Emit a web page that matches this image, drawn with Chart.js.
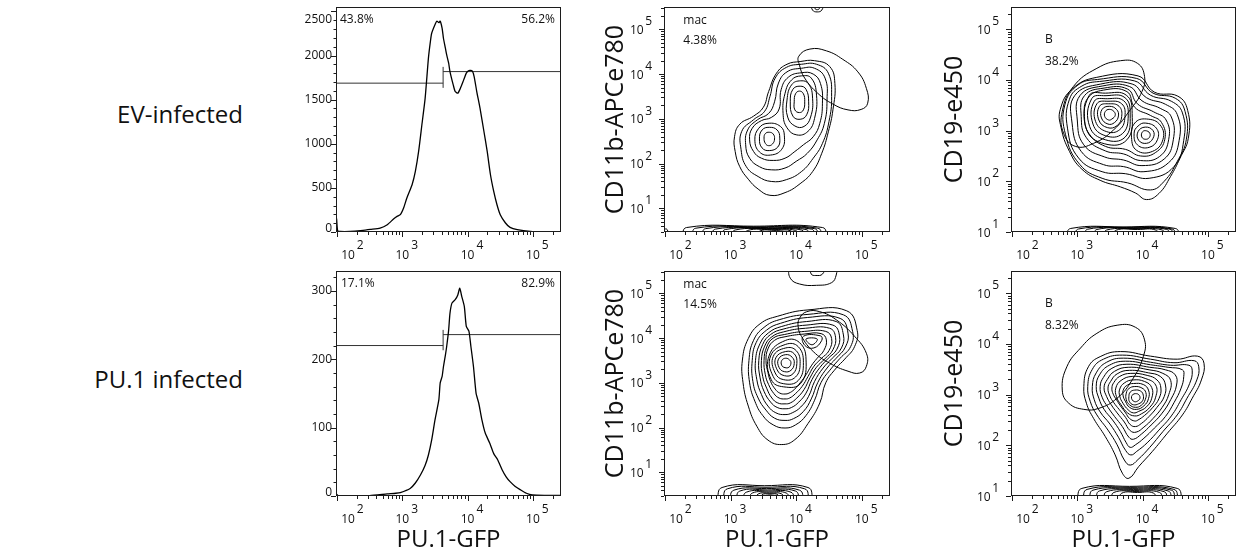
<!DOCTYPE html>
<html>
<head>
<meta charset="utf-8">
<title>PU.1-GFP flow panels</title>
<script src="https://cdn.jsdelivr.net/npm/chart.js@4.4.1/dist/chart.umd.min.js"></script>
<style>
  html, body { margin: 0; padding: 0; background: #fff; }
  body { position: relative; width: 1236px; height: 558px; overflow: hidden; font-family: "Open Sans", sans-serif; color: #111; }
  canvas { position: absolute; }
  .row-label { position: absolute; right: 993px; font-size: 24px; line-height: 28px; white-space: nowrap; }
</style>
</head>
<body>
<div class="row-label" style="top:100px">EV-infected</div>
<div class="row-label" style="top:365px">PU.1 infected</div>

<canvas id="histEv" width="290" height="264" style="left:280px;top:0"></canvas>
<canvas id="macEv" width="310" height="264" style="left:590px;top:0"></canvas>
<canvas id="bEv" width="306" height="264" style="left:930px;top:0"></canvas>
<canvas id="histPu" width="290" height="294" style="left:280px;top:264px"></canvas>
<canvas id="macPu" width="310" height="294" style="left:590px;top:264px"></canvas>
<canvas id="bPu" width="306" height="294" style="left:930px;top:264px"></canvas>

<script>
// All fluorescence values are log10 units (decades)
const gfpRange = [1.985, 5.43];
const cd11bRange = [0.47, 5.50];
const cd19Range = [1.0, 5.44];
const decadeTicks = [2, 3, 4, 5];
const markerTicks = [1, 2, 3, 4, 5];
const evCountTicks = [0, 500, 1000, 1500, 2000, 2500];
const puCountTicks = [0, 100, 200, 300];

// PU.1-GFP histograms
const evGfp = [1.985, 1.995, 2.01, 2.05, 2.20, 2.36, 2.51, 2.66, 2.77, 2.87, 2.92, 2.97, 3.02, 3.07, 3.15, 3.20, 3.25, 3.30, 3.35, 3.40, 3.43, 3.45, 3.51, 3.53, 3.56, 3.58, 3.61, 3.63, 3.66, 3.68, 3.71, 3.73, 3.78, 3.81, 3.85, 3.89, 3.94, 3.98, 4.02, 4.07, 4.10, 4.14, 4.19, 4.25, 4.30, 4.35, 4.40, 4.45, 4.50, 4.58, 4.65, 4.76, 4.96, 5.20, 5.43];
const evCounts = [180, 140, 15, 6, 6, 15, 30, 45, 83, 150, 177, 196, 272, 385, 536, 686, 913, 1215, 1517, 1970, 2158, 2253, 2366, 2390, 2372, 2390, 2309, 2196, 2083, 2007, 1913, 1818, 1667, 1592, 1573, 1630, 1724, 1800, 1830, 1826, 1762, 1592, 1403, 1139, 913, 649, 460, 309, 196, 102, 52, 26, 7, 3, 5];
const puGfp = [1.985, 2.00, 2.02, 2.20, 2.50, 2.77, 2.90, 2.97, 3.12, 3.20, 3.28, 3.35, 3.40, 3.45, 3.50, 3.56, 3.58, 3.61, 3.63, 3.66, 3.68, 3.71, 3.73, 3.76, 3.81, 3.85, 3.88, 3.91, 3.95, 3.98, 4.02, 4.05, 4.09, 4.13, 4.17, 4.22, 4.27, 4.34, 4.40, 4.46, 4.53, 4.59, 4.65, 4.73, 4.81, 4.90, 4.99, 5.20, 5.43];
const puCounts = [4, 2, 0.5, 0.5, 0.5, 3, 4, 5, 11, 19, 31, 45, 60, 82, 111, 141, 165, 175, 189, 206, 219, 243, 267, 282, 287, 294, 304, 292, 277, 248, 241, 219, 189, 150, 136, 111, 92, 77, 62, 53, 38, 28, 21, 14, 9, 4, 1.5, 1, 1];

// negative / positive gates: cut point and marker heights
const gateSplit = 3.625;
const evGateCounts = [1687, 1818];
const puGateCounts = [220, 236];
const evHistPct = ['43.8%', '56.2%'];
const puHistPct = ['17.1%', '82.9%'];
const evMacPct = '4.38%';
const puMacPct = '14.5%';
const evBPct = '38.2%';
const puBPct = '8.32%';

// CD11b vs PU.1-GFP, EV: contour rings [gfp, cd11b]
const macEvRings = [
  [[4.05,3.62],[4.11,3.56],[4.13,3.38],[4.11,3.20],[4.05,3.14],[3.98,3.20],[3.97,3.38],[3.99,3.56]],
  [[4.06,3.73],[4.15,3.66],[4.19,3.38],[4.16,3.09],[4.06,2.99],[3.95,3.06],[3.91,3.38],[3.95,3.66]],
  [[4.07,3.85],[4.19,3.78],[4.25,3.46],[4.22,3.04],[4.12,2.83],[3.98,2.84],[3.87,3.04],[3.86,3.42],[3.93,3.76]],
  [[4.08,3.96],[4.23,3.91],[4.31,3.53],[4.28,3.01],[4.18,2.72],[4.01,2.64],[3.86,2.80],[3.80,3.12],[3.83,3.57],[3.93,3.87]],
  [[3.59,2.70],[3.65,2.66],[3.67,2.55],[3.64,2.44],[3.58,2.40],[3.53,2.45],[3.51,2.57],[3.53,2.67]],
  [[3.59,2.81],[3.71,2.75],[3.75,2.57],[3.72,2.37],[3.59,2.29],[3.48,2.35],[3.44,2.55],[3.48,2.75]],
  [[3.57,2.90],[3.76,2.83],[3.82,2.62],[3.78,2.32],[3.61,2.19],[3.44,2.26],[3.37,2.53],[3.43,2.79]],
  [[4.08,4.03],[4.26,4.00],[4.37,3.79],[4.40,3.35],[4.36,2.90],[4.26,2.60],[4.11,2.42],[3.98,2.27],[3.83,2.12],[3.65,2.07],[3.47,2.12],[3.35,2.27],[3.29,2.53],[3.33,2.79],[3.47,2.96],[3.62,3.03],[3.74,3.22],[3.77,3.65],[3.88,3.93]],
  [[4.08,4.13],[4.28,4.13],[4.44,3.91],[4.47,3.42],[4.43,2.90],[4.32,2.53],[4.17,2.23],[4.00,2.05],[3.83,1.90],[3.62,1.86],[3.44,1.93],[3.29,2.12],[3.23,2.42],[3.26,2.75],[3.41,2.98],[3.58,3.12],[3.67,3.38],[3.73,3.80],[3.86,4.05]],
  [[4.08,4.22],[4.31,4.22],[4.49,4.02],[4.54,3.50],[4.50,2.94],[4.40,2.45],[4.26,2.12],[4.08,1.82],[3.85,1.64],[3.62,1.60],[3.42,1.71],[3.24,1.93],[3.16,2.31],[3.17,2.72],[3.35,2.98],[3.52,3.17],[3.60,3.50],[3.68,3.91],[3.85,4.15]],
  [[4.06,4.28],[4.28,4.30],[4.51,4.17],[4.59,3.79],[4.56,3.20],[4.49,2.71],[4.39,2.23],[4.25,1.82],[4.06,1.55],[3.83,1.35],[3.60,1.29],[3.42,1.43],[3.27,1.65],[3.14,1.93],[3.07,2.27],[3.06,2.60],[3.14,2.88],[3.35,3.06],[3.50,3.26],[3.58,3.61],[3.70,4.02],[3.86,4.22]]
];
const macEvGate = [[4.04,4.40],[4.21,4.56],[4.46,4.52],[4.71,4.33],[4.94,4.05],[5.07,3.68],[5.09,3.35],[4.99,3.21],[4.79,3.20],[4.56,3.33],[4.33,3.57],[4.13,3.91],[4.05,4.20]];
// events piled on the axis floor and ceiling
const macEvFloor = [
  [[2.25,0.35],[2.33,0.57],[3.35,0.60],[4.40,0.57],[4.48,0.35]],
  [[2.40,0.35],[2.47,0.555],[3.40,0.585],[4.33,0.555],[4.40,0.35]],
  [[2.55,0.35],[2.62,0.545],[3.45,0.57],[4.28,0.545],[4.35,0.35]],
  [[2.70,0.35],[2.77,0.535],[3.50,0.555],[4.23,0.535],[4.30,0.35]],
  [[2.85,0.35],[2.92,0.525],[3.55,0.545],[4.15,0.525],[4.22,0.35]],
  [[3.00,0.35],[3.07,0.515],[3.60,0.535],[4.08,0.515],[4.15,0.35]],
  [[3.20,0.35],[3.26,0.505],[3.62,0.52],[3.99,0.505],[4.05,0.35]],
  [[3.40,0.35],[3.45,0.495],[3.70,0.505],[3.92,0.495],[3.97,0.35]],
  [[1.95,0.35],[1.99,0.52],[2.03,0.53],[2.07,0.35]]
];
const macEvTop = [
  [[4.22,5.60],[4.25,5.43],[4.32,5.39],[4.39,5.43],[4.42,5.60]],
  [[4.27,5.60],[4.29,5.46],[4.32,5.44],[4.35,5.46],[4.37,5.60]]
];

// CD19 vs PU.1-GFP, EV
const bEvRings = [
  [[3.49,3.42],[3.56,3.38],[3.58,3.30],[3.53,3.23],[3.48,3.21],[3.42,3.28],[3.43,3.38]],
  [[3.49,3.48],[3.60,3.42],[3.63,3.29],[3.57,3.16],[3.47,3.13],[3.37,3.25],[3.38,3.42]],
  [[3.48,3.53],[3.64,3.48],[3.68,3.28],[3.61,3.10],[3.46,3.06],[3.33,3.21],[3.34,3.48]],
  [[3.47,3.58],[3.68,3.53],[3.73,3.28],[3.65,3.02],[3.45,2.98],[3.28,3.18],[3.30,3.53]],
  [[3.46,3.63],[3.71,3.59],[3.78,3.29],[3.69,2.94],[3.43,2.90],[3.24,3.13],[3.26,3.58]],
  [[3.44,3.69],[3.73,3.65],[3.81,3.31],[3.73,2.87],[3.43,2.82],[3.19,3.08],[3.22,3.63]],
  [[3.43,3.74],[3.75,3.70],[3.84,3.34],[3.76,2.82],[3.42,2.74],[3.14,3.03],[3.18,3.69]],
  [[4.04,3.00],[4.11,2.95],[4.10,2.86],[4.04,2.83],[3.99,2.87],[3.99,2.96]],
  [[4.04,3.07],[4.16,3.00],[4.16,2.85],[4.06,2.75],[3.94,2.81],[3.93,2.98]],
  [[4.04,3.15],[4.21,3.05],[4.23,2.83],[4.10,2.67],[3.92,2.72],[3.87,2.95],[3.93,3.09]],
  [[4.06,3.23],[4.27,3.11],[4.31,2.82],[4.15,2.59],[3.91,2.61],[3.83,2.87],[3.88,3.15]],
  [[3.40,3.80],[3.76,3.77],[3.88,3.46],[4.12,3.30],[4.29,3.16],[4.34,2.83],[4.20,2.57],[3.97,2.50],[3.74,2.63],[3.43,2.69],[3.18,2.94],[3.11,3.28],[3.16,3.64]],
  [[3.41,3.84],[3.77,3.82],[3.92,3.53],[4.17,3.37],[4.36,3.21],[4.40,2.83],[4.26,2.49],[3.97,2.41],[3.71,2.54],[3.43,2.60],[3.14,2.86],[3.06,3.28],[3.11,3.69]],
  [[3.38,3.88],[3.80,3.87],[3.99,3.59],[4.27,3.44],[4.44,3.27],[4.47,2.82],[4.33,2.44],[3.99,2.31],[3.71,2.42],[3.42,2.48],[3.10,2.72],[3.00,3.21],[3.04,3.69]],
  [[3.36,3.92],[3.84,3.92],[4.06,3.65],[4.35,3.52],[4.53,3.32],[4.56,2.81],[4.40,2.37],[4.02,2.19],[3.71,2.29],[3.40,2.33],[3.06,2.59],[2.92,3.15],[2.96,3.69]],
  [[3.34,3.97],[3.88,3.98],[4.12,3.70],[4.44,3.58],[4.61,3.35],[4.63,2.81],[4.48,2.29],[4.10,2.06],[3.74,2.15],[3.38,2.19],[3.02,2.46],[2.85,3.05],[2.88,3.62],[3.07,3.88]],
  [[3.31,4.01],[3.91,4.03],[4.16,3.74],[4.50,3.64],[4.65,3.38],[4.67,2.83],[4.53,2.39],[4.33,2.00],[4.12,1.83],[3.77,1.97],[3.38,2.06],[3.04,2.33],[2.82,2.92],[2.81,3.51],[3.01,3.90]],
  [[3.29,4.05],[3.93,4.08],[4.18,3.76],[4.54,3.68],[4.69,3.40],[4.70,2.85],[4.57,2.45],[4.43,2.10],[4.25,1.76],[4.06,1.64],[3.89,1.77],[3.66,1.89],[3.35,2.02],[3.07,2.24],[2.88,2.59],[2.75,3.07],[2.74,3.42],[2.92,3.82]]
];
const bEvGate = [[2.77,3.38],[2.94,3.87],[3.30,4.23],[3.66,4.38],[3.92,4.33],[4.03,4.07],[3.99,3.77],[3.81,3.41],[3.56,3.02],[3.25,2.75],[2.97,2.69],[2.79,2.95]];
const bEvFloor = [
  [[2.82,0.9],[2.90,1.07],[3.70,1.10],[4.50,1.07],[4.58,0.9]],
  [[2.95,0.9],[3.02,1.06],[3.75,1.09],[4.45,1.06],[4.52,0.9]],
  [[3.10,0.9],[3.16,1.055],[3.80,1.08],[4.42,1.055],[4.48,0.9]],
  [[3.25,0.9],[3.30,1.05],[3.85,1.07],[4.37,1.05],[4.42,0.9]],
  [[3.40,0.9],[3.45,1.04],[3.90,1.06],[4.30,1.04],[4.35,0.9]],
  [[3.55,0.9],[3.59,1.035],[3.92,1.05],[4.21,1.035],[4.25,0.9]]
];

// CD11b vs PU.1-GFP, PU.1 infected
const macPuRings = [
  [[3.84,3.55],[3.90,3.51],[3.92,3.44],[3.89,3.35],[3.83,3.34],[3.78,3.39],[3.78,3.50]],
  [[3.84,3.63],[3.94,3.57],[3.97,3.43],[3.92,3.28],[3.82,3.25],[3.74,3.34],[3.73,3.53]],
  [[3.84,3.70],[3.97,3.65],[4.01,3.43],[3.95,3.20],[3.82,3.16],[3.71,3.29],[3.69,3.56]],
  [[3.84,3.78],[4.00,3.72],[4.06,3.43],[3.99,3.13],[3.81,3.07],[3.68,3.22],[3.65,3.59]],
  [[3.84,3.86],[4.03,3.81],[4.11,3.45],[4.03,3.05],[3.81,2.98],[3.65,3.14],[3.61,3.60]],
  [[3.84,3.95],[4.05,3.90],[4.15,3.53],[4.07,2.99],[3.81,2.91],[3.62,3.07],[3.59,3.62]],
  [[4.15,3.98],[4.32,3.98],[4.24,3.85]],
  [[4.11,4.04],[4.37,4.05],[4.39,3.95],[4.27,3.78],[4.13,3.84]],
  [[3.83,4.03],[4.12,4.09],[4.38,4.10],[4.46,3.96],[4.42,3.72],[4.32,3.55],[4.23,3.38],[4.15,3.18],[4.06,3.00],[3.97,2.85],[3.89,2.77],[3.83,2.75],[3.75,2.77],[3.68,2.86],[3.61,3.03],[3.57,3.23],[3.54,3.50],[3.57,3.76],[3.67,3.95]],
  [[3.82,4.08],[4.13,4.15],[4.45,4.15],[4.54,3.99],[4.50,3.72],[4.38,3.54],[4.27,3.37],[4.18,3.14],[4.09,2.92],[3.99,2.76],[3.90,2.66],[3.83,2.64],[3.74,2.66],[3.66,2.76],[3.58,2.96],[3.53,3.18],[3.51,3.50],[3.55,3.80],[3.65,4.00]],
  [[3.81,4.14],[4.14,4.22],[4.51,4.22],[4.60,4.02],[4.56,3.74],[4.44,3.54],[4.31,3.35],[4.21,3.11],[4.12,2.85],[4.01,2.66],[3.91,2.55],[3.83,2.53],[3.72,2.55],[3.63,2.66],[3.55,2.88],[3.49,3.14],[3.47,3.50],[3.52,3.82],[3.63,4.03]],
  [[3.80,4.20],[4.15,4.29],[4.56,4.29],[4.66,4.05],[4.62,3.75],[4.49,3.55],[4.36,3.34],[4.24,3.07],[4.15,2.77],[4.04,2.57],[3.93,2.45],[3.83,2.42],[3.71,2.45],[3.61,2.57],[3.51,2.81],[3.45,3.11],[3.43,3.50],[3.49,3.86],[3.61,4.08]],
  [[3.78,4.26],[4.16,4.37],[4.61,4.37],[4.72,4.07],[4.69,3.78],[4.55,3.55],[4.41,3.33],[4.28,3.03],[4.19,2.70],[4.07,2.46],[3.94,2.33],[3.83,2.29],[3.69,2.33],[3.57,2.48],[3.47,2.74],[3.40,3.07],[3.38,3.50],[3.45,3.88],[3.58,4.12]],
  [[3.76,4.33],[4.17,4.46],[4.67,4.44],[4.79,4.11],[4.75,3.80],[4.61,3.55],[4.47,3.33],[4.33,3.01],[4.23,2.64],[4.11,2.36],[3.96,2.20],[3.83,2.16],[3.67,2.21],[3.54,2.39],[3.42,2.66],[3.34,3.03],[3.33,3.50],[3.39,3.90],[3.55,4.18]],
  [[3.74,4.41],[4.18,4.53],[4.72,4.52],[4.86,4.15],[4.83,3.81],[4.67,3.55],[4.54,3.33],[4.38,3.01],[4.28,2.61],[4.15,2.27],[3.99,2.06],[3.83,1.99],[3.65,2.06],[3.49,2.27],[3.37,2.59],[3.29,3.00],[3.28,3.50],[3.35,3.95],[3.51,4.24]],
  [[3.72,4.49],[4.18,4.63],[4.77,4.61],[4.93,4.17],[4.89,3.81],[4.74,3.53],[4.61,3.33],[4.45,3.00],[4.36,2.55],[4.18,2.09],[3.98,1.73],[3.78,1.62],[3.57,1.72],[3.40,2.03],[3.27,2.48],[3.19,3.00],[3.18,3.51],[3.27,3.99],[3.45,4.32]]
];
const macPuGate = [[4.05,4.44],[4.16,4.59],[4.36,4.59],[4.61,4.41],[4.89,4.04],[5.07,3.66],[5.07,3.37],[4.97,3.22],[4.79,3.26],[4.51,3.44],[4.26,3.70],[4.08,4.04],[4.03,4.26]];
const macPuFloor = [
  [[2.79,0.35],[2.87,0.66],[3.52,0.70],[4.18,0.66],[4.26,0.35]],
  [[2.88,0.35],[2.95,0.63],[3.54,0.665],[4.13,0.63],[4.20,0.35]],
  [[2.98,0.35],[3.05,0.60],[3.55,0.635],[4.05,0.60],[4.12,0.35]],
  [[3.08,0.35],[3.14,0.58],[3.56,0.605],[3.99,0.58],[4.05,0.35]],
  [[3.18,0.35],[3.24,0.555],[3.58,0.58],[3.92,0.555],[3.98,0.35]],
  [[3.28,0.35],[3.33,0.535],[3.59,0.555],[3.85,0.535],[3.90,0.35]],
  [[3.38,0.35],[3.42,0.515],[3.60,0.53],[3.78,0.515],[3.82,0.35]],
  [[3.45,0.35],[3.48,0.50],[3.60,0.51],[3.72,0.50],[3.75,0.35]]
];
const macPuTop = [
  [[3.88,5.62],[3.91,5.34],[4.05,5.21],[4.31,5.18],[4.54,5.24],[4.61,5.41],[4.62,5.62]],
  [[4.21,5.62],[4.23,5.43],[4.30,5.40],[4.40,5.43],[4.45,5.62]]
];

// CD19 vs PU.1-GFP, PU.1 infected
const bPuRings = [
  [[3.89,3.02],[3.94,3.00],[3.96,2.93],[3.93,2.88],[3.88,2.86],[3.84,2.90],[3.83,2.96],[3.85,3.00]],
  [[3.88,3.09],[3.97,3.07],[4.01,2.99],[4.00,2.88],[3.94,2.82],[3.86,2.80],[3.80,2.86],[3.79,2.96],[3.81,3.05]],
  [[3.88,3.16],[3.99,3.13],[4.05,3.04],[4.04,2.90],[3.98,2.79],[3.89,2.75],[3.80,2.80],[3.75,2.90],[3.75,3.03],[3.79,3.12]],
  [[3.86,3.22],[4.01,3.20],[4.09,3.09],[4.09,2.92],[4.02,2.78],[3.91,2.71],[3.80,2.75],[3.74,2.86],[3.70,2.99],[3.71,3.11],[3.77,3.19]],
  [[3.85,3.29],[4.03,3.26],[4.14,3.14],[4.14,2.93],[4.06,2.76],[3.94,2.67],[3.86,2.64],[3.78,2.70],[3.70,2.83],[3.65,2.97],[3.65,3.11],[3.72,3.23]],
  [[3.84,3.36],[4.04,3.32],[4.20,3.19],[4.20,2.95],[4.11,2.75],[3.98,2.62],[3.88,2.58],[3.77,2.64],[3.67,2.80],[3.60,2.96],[3.59,3.13],[3.67,3.28]],
  [[3.82,3.42],[4.07,3.38],[4.22,3.29],[4.28,3.13],[4.25,2.92],[4.15,2.74],[4.03,2.59],[3.93,2.50],[3.88,2.48],[3.80,2.53],[3.74,2.64],[3.66,2.78],[3.60,2.90],[3.55,3.01],[3.53,3.13],[3.56,3.24],[3.65,3.36]],
  [[3.80,3.48],[4.09,3.43],[4.27,3.36],[4.35,3.19],[4.33,2.96],[4.22,2.75],[4.10,2.57],[3.98,2.43],[3.89,2.37],[3.81,2.41],[3.74,2.55],[3.64,2.71],[3.56,2.84],[3.50,2.97],[3.47,3.13],[3.51,3.26],[3.61,3.41]],
  [[3.78,3.54],[4.10,3.49],[4.31,3.42],[4.43,3.28],[4.40,3.00],[4.30,2.75],[4.16,2.53],[4.02,2.36],[3.90,2.26],[3.81,2.29],[3.72,2.46],[3.61,2.64],[3.52,2.80],[3.45,2.96],[3.41,3.14],[3.46,3.30],[3.57,3.46]],
  [[3.76,3.60],[4.11,3.54],[4.35,3.49],[4.50,3.39],[4.52,3.19],[4.43,2.90],[4.29,2.62],[4.13,2.40],[3.98,2.22],[3.86,2.12],[3.79,2.16],[3.69,2.37],[3.57,2.57],[3.47,2.75],[3.38,2.95],[3.35,3.16],[3.40,3.34],[3.53,3.52]],
  [[3.74,3.66],[4.12,3.59],[4.39,3.54],[4.61,3.49],[4.63,3.36],[4.59,3.13],[4.48,2.84],[4.35,2.57],[4.18,2.34],[4.02,2.14],[3.89,2.01],[3.81,1.96],[3.75,2.05],[3.66,2.27],[3.54,2.50],[3.41,2.71],[3.33,2.93],[3.29,3.16],[3.34,3.39],[3.49,3.58]],
  [[3.71,3.72],[4.12,3.64],[4.43,3.58],[4.71,3.58],[4.76,3.47],[4.72,3.22],[4.59,2.90],[4.44,2.58],[4.25,2.30],[4.07,2.05],[3.91,1.88],[3.82,1.81],[3.74,1.90],[3.63,2.16],[3.50,2.42],[3.35,2.66],[3.26,2.90],[3.23,3.16],[3.29,3.43],[3.45,3.64]],
  [[3.69,3.78],[4.12,3.70],[4.48,3.63],[4.79,3.67],[4.86,3.55],[4.83,3.29],[4.68,2.93],[4.53,2.60],[4.31,2.27],[4.11,1.96],[3.93,1.72],[3.81,1.61],[3.72,1.71],[3.61,2.01],[3.47,2.30],[3.30,2.60],[3.20,2.86],[3.16,3.16],[3.23,3.50],[3.40,3.70]],
  [[3.66,3.85],[4.12,3.76],[4.53,3.70],[4.84,3.76],[4.94,3.62],[4.90,3.29],[4.76,2.93],[4.61,2.60],[4.38,2.24],[4.15,1.88],[3.94,1.58],[3.79,1.35],[3.69,1.45],[3.58,1.81],[3.43,2.17],[3.25,2.53],[3.14,2.83],[3.10,3.16],[3.17,3.55],[3.35,3.75]]
];
const bPuGate = [[2.77,3.09],[2.84,3.55],[3.05,3.92],[3.30,4.21],[3.61,4.37],[3.89,4.33],[4.03,4.08],[4.01,3.75],[3.84,3.29],[3.61,2.93],[3.33,2.73],[3.10,2.71],[2.87,2.83]];
const bPuFloor = [
  [[2.99,0.9],[3.07,1.15],[3.80,1.19],[4.53,1.15],[4.61,0.9]],
  [[3.08,0.9],[3.15,1.13],[3.82,1.17],[4.48,1.13],[4.55,0.9]],
  [[3.18,0.9],[3.24,1.115],[3.84,1.15],[4.44,1.115],[4.50,0.9]],
  [[3.28,0.9],[3.34,1.10],[3.86,1.13],[4.39,1.10],[4.45,0.9]],
  [[3.40,0.9],[3.45,1.085],[3.88,1.11],[4.33,1.085],[4.38,0.9]],
  [[3.52,0.9],[3.56,1.07],[3.90,1.09],[4.26,1.07],[4.30,0.9]],
  [[3.65,0.9],[3.68,1.055],[3.92,1.07],[4.17,1.055],[4.20,0.9]]
];

const INK = '#000';

// closed rings repeat their ends so the spline runs smoothly through the join;
// the two wrap-around segments are left transparent
function ring(pts, closed, width) {
  let data = pts.map(p => ({ x: p[0], y: p[1] }));
  if (closed) {
    const n = data.length;
    data = [data[n - 1], ...data, data[0], data[1]];
  }
  const last = data.length - 1;
  return {
    data,
    showLine: true,
    borderColor: INK,
    borderWidth: width || 1,
    pointRadius: 0,
    tension: 0.45,
    segment: closed ? {
      borderColor: c => (c.p0DataIndex === 0 || c.p1DataIndex === last) ? 'rgba(0,0,0,0)' : undefined
    } : undefined
  };
}

function histLine(xs, ys) {
  return {
    data: xs.map((v, i) => ({ x: v, y: ys[i] })),
    showLine: true, borderColor: INK, borderWidth: 1.3, pointRadius: 0, tension: 0.2
  };
}

function gateLines(counts, yMax) {
  const cap = yMax * 0.021;
  const seg = pts => ({ data: pts, showLine: true, borderColor: '#333', borderWidth: 1, pointRadius: 0, tension: 0 });
  return [
    seg([{ x: gfpRange[0], y: counts[0] }, { x: gateSplit, y: counts[0] }]),
    seg([{ x: gateSplit, y: counts[1] }, { x: gfpRange[1], y: counts[1] }]),
    seg([{ x: gateSplit, y: counts[0] - cap }, { x: gateSplit, y: counts[1] + cap }])
  ];
}

function logTicks(min, max) {
  const out = [];
  for (let n = Math.floor(min); n <= Math.ceil(max); n++) {
    for (let k = 1; k <= 9; k++) {
      const v = n + Math.log10(k);
      if (v >= min - 1e-6 && v <= max) out.push({ v, major: k === 1 });
    }
  }
  return out;
}

// frame, ticks, "10^n" labels, gate annotations and titles
function flowAxes(spec) {
  return {
    id: 'flowAxes',
    afterDatasetsDraw(chart) {
      const { ctx, chartArea: a, scales: { x, y } } = chart;
      ctx.save();
      ctx.strokeStyle = '#1c1c1c';
      ctx.fillStyle = '#111';
      ctx.lineWidth = 1;
      ctx.strokeRect(a.left + 0.5, a.top + 0.5, a.right - a.left - 1, a.bottom - a.top - 1);

      ctx.beginPath();
      logTicks(x.min, x.max).forEach(t => {
        const px = Math.round(x.getPixelForValue(t.v)) + 0.5;
        ctx.moveTo(px, a.bottom);
        ctx.lineTo(px, a.bottom + (t.major ? 5 : 3));
      });
      if (spec.yLog) {
        logTicks(y.min, y.max).forEach(t => {
          const py = Math.round(y.getPixelForValue(t.v)) + 0.5;
          ctx.moveTo(a.left, py);
          ctx.lineTo(a.left - (t.major ? 5 : 3), py);
        });
      } else {
        for (let v = 0; v <= y.max; v += spec.yMinor) {
          const py = Math.round(y.getPixelForValue(v)) + 0.5;
          ctx.moveTo(a.left, py);
          ctx.lineTo(a.left - (v % spec.yTicks[1] === 0 ? 5 : 2.5), py);
        }
      }
      ctx.stroke();

      ctx.font = '12px "Open Sans"';
      ctx.textBaseline = 'alphabetic';
      const tenW = ctx.measureText('10').width;
      decadeTicks.forEach(n => {
        let px = x.getPixelForValue(n);
        if (px - a.left < 6) px = a.left + 12;
        ctx.textAlign = 'center';
        ctx.fillText('10', px, a.bottom + 27);
        ctx.textAlign = 'left';
        ctx.fillText(String(n), px + tenW / 2 + 2, a.bottom + 17);
      });

      if (spec.yLog) {
        spec.yTicks.forEach(n => {
          const py = y.getPixelForValue(n);
          const supW = ctx.measureText(String(n)).width;
          ctx.textAlign = 'right';
          ctx.fillText(String(n), a.left - 12, py - 4);
          ctx.fillText('10', a.left - 13.5 - supW, py + 4.5);
        });
      } else {
        ctx.textAlign = 'right';
        ctx.textBaseline = 'middle';
        spec.yTicks.forEach(v => {
          const py = Math.min(Math.max(y.getPixelForValue(v), a.top + 12.5), a.bottom - 3.5);
          ctx.fillText(String(v), a.left - 4, py);
        });
        ctx.textBaseline = 'alphabetic';
      }

      spec.notes.forEach(t => {
        ctx.textAlign = t.align || 'left';
        const bx = t.align === 'right' ? a.right + t.x : a.left + t.x;
        ctx.fillText(t.text, bx, a.top + t.y);
      });

      if (spec.xTitle) {
        ctx.font = '24px "Open Sans"';
        ctx.textAlign = 'center';
        ctx.fillText(spec.xTitle, (a.left + a.right) / 2, a.bottom + 50.5);
      }
      if (spec.yTitle) {
        ctx.font = '25px "Open Sans"';
        ctx.translate(a.left - spec.yTitleGap, (a.top + a.bottom) / 2);
        ctx.rotate(-Math.PI / 2);
        ctx.textAlign = 'center';
        ctx.fillText(spec.yTitle, 0, 0);
      }
      ctx.restore();
    }
  };
}

function panel(id, datasets, yRange, pad, spec) {
  return new Chart(document.getElementById(id), {
    type: 'scatter',
    data: { datasets },
    options: {
      responsive: false,
      animation: false,
      events: [],
      layout: { padding: pad },
      scales: {
        x: { type: 'linear', display: false, min: gfpRange[0], max: gfpRange[1] },
        y: { type: 'linear', display: false, min: yRange[0], max: yRange[1] }
      },
      plugins: { legend: { display: false }, tooltip: { enabled: false } }
    },
    plugins: [flowAxes(spec)]
  });
}

const histPad = b => ({ left: 56, top: 7, right: 9, bottom: b });
const macPad = b => ({ left: 74, top: 7, right: 10, bottom: b });
const bPad = b => ({ left: 81, top: 7, right: 0, bottom: b });
const contour = (rings, gate, extra) => [
  ...rings.map(r => ring(r, true)),
  ring(gate, true, 1),
  ...extra.map(r => ring(r, false))
];

// top row: EV-infected
panel('histEv', [histLine(evGfp, evCounts), ...gateLines(evGateCounts, 2550)], [0, 2550], histPad(32), {
  yLog: false, yTicks: evCountTicks, yMinor: 100,
  notes: [{ text: evHistPct[0], x: 4, y: 16.3 }, { text: evHistPct[1], x: -6, y: 16.3, align: 'right' }]
});
panel('macEv', contour(macEvRings, macEvGate, [...macEvFloor, ...macEvTop]), cd11bRange, macPad(32), {
  yLog: true, yTicks: markerTicks, yTitle: 'CD11b-APCe780', yTitleGap: 40.7,
  notes: [{ text: 'mac', x: 19.3, y: 16.5 }, { text: evMacPct, x: 19.3, y: 37.3 }]
});
panel('bEv', contour(bEvRings, bEvGate, bEvFloor), cd19Range, bPad(32), {
  yLog: true, yTicks: markerTicks, yTitle: 'CD19-e450', yTitleGap: 49.3,
  notes: [{ text: 'B', x: 34, y: 35.7 }, { text: evBPct, x: 34, y: 57.7 }]
});

// bottom row: PU.1 infected
panel('histPu', [histLine(puGfp, puCounts), ...gateLines(puGateCounts, 329)], [0, 329], histPad(62), {
  yLog: false, yTicks: puCountTicks, yMinor: 20, xTitle: 'PU.1-GFP',
  notes: [{ text: puHistPct[0], x: 5, y: 16.3 }, { text: puHistPct[1], x: -6, y: 16.3, align: 'right' }]
});
panel('macPu', contour(macPuRings, macPuGate, [...macPuFloor, ...macPuTop]), cd11bRange, macPad(62), {
  yLog: true, yTicks: markerTicks, yTitle: 'CD11b-APCe780', yTitleGap: 40.7, xTitle: 'PU.1-GFP',
  notes: [{ text: 'mac', x: 19.3, y: 17 }, { text: puMacPct, x: 19.3, y: 37.3 }]
});
panel('bPu', contour(bPuRings, bPuGate, bPuFloor), cd19Range, bPad(62), {
  yLog: true, yTicks: markerTicks, yTitle: 'CD19-e450', yTitleGap: 49.3, xTitle: 'PU.1-GFP',
  notes: [{ text: 'B', x: 34, y: 35.7 }, { text: puBPct, x: 34, y: 57.5 }]
});
</script>
</body>
</html>
